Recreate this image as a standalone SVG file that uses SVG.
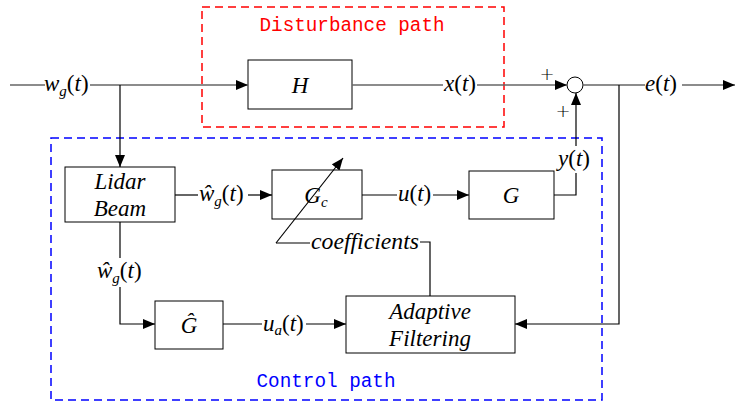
<svg xmlns="http://www.w3.org/2000/svg" width="735" height="407" viewBox="0 0 735 407">
<style>
.blk{fill:#fff;stroke:#000;stroke-width:1}
.ln{fill:none;stroke:#000;stroke-width:1.2}
.gl{fill:none;stroke:#666;stroke-width:1.5}
.m{font-family:"Liberation Serif",serif;font-size:23px;fill:#000}
.i{font-style:italic}
.sub{font-size:15px;font-style:italic}
.mono{font-family:"Liberation Mono",monospace;font-size:20px}
.pl{font-family:"DejaVu Sans",sans-serif;font-size:18px;font-weight:300;fill:#000}
</style>
<defs>
<marker id="ar" markerWidth="12" markerHeight="10" refX="12" refY="5" orient="auto" markerUnits="userSpaceOnUse">
<path d="M0,0 L12,5 L0,10 Z" fill="#000"/>
</marker>
</defs>
<g id="regions">
<rect x="202" y="7" width="302" height="120" fill="none" stroke="#f00" stroke-width="1.5" stroke-dasharray="8,5"/>
<text x="352" y="31" text-anchor="middle" class="mono" fill="#f00" textLength="185" lengthAdjust="spacingAndGlyphs">Disturbance path</text>
<rect x="51" y="138" width="551" height="262" fill="none" stroke="#00f" stroke-width="1.5" stroke-dasharray="8,5"/>
<text x="326" y="387" text-anchor="middle" class="mono" fill="#00f" textLength="139" lengthAdjust="spacingAndGlyphs">Control path</text>
</g>
<g id="sum">
<circle cx="575" cy="85" r="8" fill="#fff" stroke="#000" stroke-width="1"/>
<text x="547" y="80" text-anchor="middle" class="pl">+</text>
<text x="563" y="117" text-anchor="middle" class="pl">+</text>
</g>
<g id="H">
<rect class="blk" x="248" y="60" width="104" height="49"/>
<text x="300" y="93" text-anchor="middle" class="m i">H</text>
</g>
<g id="lidar">
<rect class="blk" x="65" y="167" width="110" height="55"/>
<text x="120" y="189" text-anchor="middle" class="m i">Lidar</text>
<text x="120" y="216" text-anchor="middle" class="m i">Beam</text>
</g>
<g id="Gc">
<rect class="blk" x="272" y="170" width="90" height="49"/>
<text x="316" y="203" text-anchor="middle" class="m"><tspan class="i">G</tspan><tspan class="sub" dy="4">c</tspan></text>
</g>
<g id="G">
<rect class="blk" x="469" y="171" width="85" height="48"/>
<text x="511" y="203" text-anchor="middle" class="m i">G</text>
</g>
<g id="Ghat">
<rect class="blk" x="155" y="301" width="68" height="48"/>
<text x="189" y="333" text-anchor="middle" class="m i">Ĝ</text>
</g>
<g id="adaptive">
<rect class="blk" x="346" y="296" width="169" height="57"/>
<text x="430" y="319" text-anchor="middle" class="m i">Adaptive</text>
<text x="430" y="346" text-anchor="middle" class="m i">Filtering</text>
</g>
<g id="connectors">
<path class="gl" d="M10,85 H45"/>
<path class="gl" d="M90,85 H248" marker-end="url(#ar)"/>
<path class="gl" d="M352,85 H443"/>
<path class="gl" d="M477,85 H567" marker-end="url(#ar)"/>
<path class="gl" d="M583,85 H645"/>
<path class="gl" d="M682,85 H735" marker-end="url(#ar)"/>
<path class="ln" d="M120,85 V167" marker-end="url(#ar)"/>
<path class="ln" d="M175,195 H198"/>
<path class="ln" d="M248,195 H272" marker-end="url(#ar)"/>
<path class="ln" d="M362,195 H397"/>
<path class="ln" d="M433,195 H469" marker-end="url(#ar)"/>
<path class="ln" d="M554,195 H576 V173"/>
<path class="ln" d="M576,146 V93" marker-end="url(#ar)"/>
<path class="ln" d="M619,85 V324 H515" marker-end="url(#ar)"/>
<path class="ln" d="M120,222 V258"/>
<path class="ln" d="M120,287 V324 H155" marker-end="url(#ar)"/>
<path class="ln" d="M223,324 H262"/>
<path class="ln" d="M306,324 H346" marker-end="url(#ar)"/>
<path class="ln" d="M276,243 L343,158" marker-end="url(#ar)"/>
<path class="ln" d="M276,243 H310"/>
<path class="ln" d="M420,242 H430 V296"/>
</g>
<g id="labels">
<text x="44" y="91" class="m"><tspan class="i">w</tspan><tspan class="sub" dy="5">g</tspan><tspan dy="-5">(</tspan><tspan class="i">t</tspan>)</text>
<text x="444" y="91" class="m"><tspan class="i">x</tspan>(<tspan class="i">t</tspan>)</text>
<text x="645" y="91" class="m"><tspan class="i">e</tspan>(<tspan class="i">t</tspan>)</text>
<text x="199" y="201" class="m"><tspan class="i">ŵ</tspan><tspan class="sub" dy="5">g</tspan><tspan dy="-5">(</tspan><tspan class="i">t</tspan>)</text>
<text x="398" y="201" class="m"><tspan class="i">u</tspan>(<tspan class="i">t</tspan>)</text>
<text x="558" y="166" class="m"><tspan class="i">y</tspan>(<tspan class="i">t</tspan>)</text>
<text x="311" y="249" class="m i" textLength="108" lengthAdjust="spacingAndGlyphs">coefficients</text>
<text x="97" y="278" class="m"><tspan class="i">ŵ</tspan><tspan class="sub" dy="5">g</tspan><tspan dy="-5">(</tspan><tspan class="i">t</tspan>)</text>
<text x="263" y="331" class="m"><tspan class="i">u</tspan><tspan class="sub" dy="4">a</tspan><tspan dy="-4">(</tspan><tspan class="i">t</tspan>)</text>
</g>
</svg>
